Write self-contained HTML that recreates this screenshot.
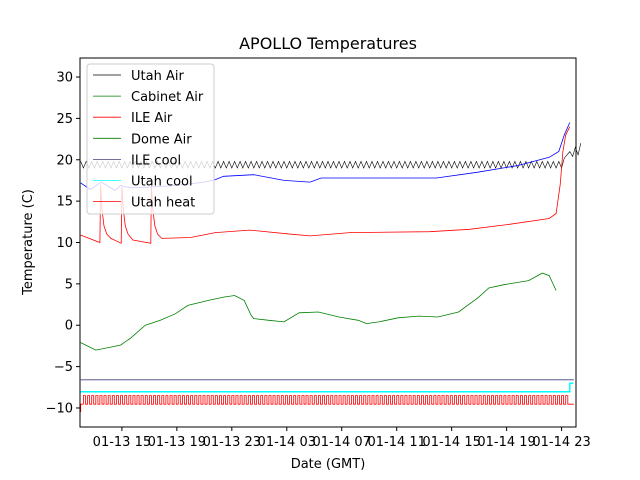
<!DOCTYPE html>
<html><head><meta charset="utf-8"><style>
body{margin:0;background:#fff}
svg{display:block;font-family:"DejaVu Sans","Liberation Sans",sans-serif}
</style></head><body>
<svg id="chart" width="640" height="480">
<rect width="640" height="480" fill="#fff"/>
<text x="328" y="49" font-size="16" text-anchor="middle">APOLLO Temperatures</text>
<g id="plot"></g>
<g id="axes"></g>
<text x="328" y="468" font-size="13" text-anchor="middle">Date (GMT)</text>
<text transform="translate(32,242) rotate(-90)" font-size="13" text-anchor="middle">Temperature (C)</text>
<g id="legend"></g>
</svg>
<script>
// hours since 01-13 00:00
const xTicks = [15,19,23,27,31,35,39,43,47];
const xTickLabels = ["01-13 15","01-13 19","01-13 23","01-14 03","01-14 07","01-14 11","01-14 15","01-14 19","01-14 23"];
const yTicks = [-10,-5,0,5,10,15,20,25,30];
const cabinetT = [12,13.1,14.9,15.6,16.7,17.8,18.9,19.8,21.3,22.4,23.2,23.9,24.4,24.6,25.7,26.8,27.9,29.3,30.8,32.2,32.8,33.7,35.1,36.6,38.0,39.5,40.9,41.7,42.8,44.6,45.6,46.1,46.6];
const cabinetV = [-2.1,-3.0,-2.4,-1.6,0.0,0.6,1.4,2.4,3.0,3.4,3.6,3.0,1.2,0.8,0.6,0.4,1.5,1.6,1.0,0.6,0.2,0.4,0.9,1.1,1.0,1.6,3.3,4.5,4.9,5.4,6.3,6.0,4.2];
const ileAirT = [12,13.4,13.45,13.55,13.7,13.9,14.2,14.95,15.0,15.1,15.25,15.45,15.8,17.1,17.15,17.25,17.4,17.6,17.9,20,21.8,24.3,27.3,28.7,31.6,37.4,40.3,43.2,46.1,46.6,46.9,47.1,47.3,47.6];
const ileAirV = [10.9,10.0,17.0,14.0,12.0,11.0,10.5,9.9,16.8,14.0,12.0,11.0,10.3,9.9,17.0,14.0,12.0,11.0,10.5,10.6,11.2,11.5,11.0,10.8,11.2,11.3,11.6,12.2,12.9,13.5,17,21,23,24];
const ileCoolT = [12,12.7,13.5,14.5,14.9,15.6,17,19,21,21.8,22.4,24.6,26.8,28.7,29.5,32.2,37.9,40.9,43.8,46.1,46.8,47.2,47.6];
const ileCoolV = [17.2,16.4,17.3,16.3,16.9,16.6,16.7,16.9,17.3,17.6,18.0,18.2,17.5,17.3,17.8,17.8,17.8,18.5,19.3,20.3,21,23,24.5];
const utahAir = [
19.8,19.0,19.8,19.0,19.8,19.0,19.8,19.0,19.8,19.0,19.8,19.0,19.8,19.0,19.8,19.0,19.8,19.0,19.8,19.0,
19.8,19.0,19.8,19.0,19.8,19.0,19.8,19.0,19.8,19.0,19.8,19.0,19.8,19.0,19.8,19.0,19.8,19.0,19.8,19.0,
19.8,19.0,19.8,19.0,19.8,19.0,19.8,19.0,19.8,19.0,19.8,19.0,19.8,19.0,19.8,19.0,19.8,19.0,19.8,19.0,
19.8,19.0,19.8,19.0,19.8,19.0,19.8,19.0,19.8,19.0,19.8,19.0,19.8,19.0,19.8,19.0,19.8,19.0,19.8,19.0,
19.8,19.0,19.8,19.0,19.8,19.0,19.8,19.0,19.8,19.0,19.8,19.0,19.8,19.0,19.8,19.0,19.8,19.0,19.8,19.0,
19.8,19.0,19.8,19.0,19.8,19.0,19.8,19.0,19.8,19.0,19.8,19.0,19.8,19.0,19.8,19.0,19.8,19.0,19.8,19.0,
19.8,19.0,19.8,19.0,19.8,19.0,19.8,19.0,19.8,19.0,19.8,19.0,19.8,19.0,19.8,19.0,19.8,19.0,19.8,19.0,
19.8,19.0,19.8,19.0,19.8,19.0,19.8,19.0,19.8,19.0,19.8,19.0,19.8,19.0,19.8,19.0,19.8,19.0,19.8,19.0,
19.8,19.0,19.8,19.0,19.8,19.0,19.8,19.0,19.8,19.0,19.8,19.0,19.8,19.0,19.8,19.0,20.2,20.6,21.0,20.4,
21.5,20.6,22.0];
const utahAirStart = 12, utahAirStep = 0.2;
const heatPulses = [12.2,12.5,12.8,13.1,13.4,13.7,14.0,14.3,14.6,14.9,15.2,15.5,15.8,16.1,16.4,16.7,17.0,17.3,17.6,17.9,
18.2,18.5,18.8,19.1,19.4,19.7,20.0,20.3,20.6,20.9,21.2,21.5,21.8,22.1,22.4,22.7,23.0,23.3,23.6,23.9,
24.2,24.5,24.8,25.1,25.4,25.7,26.0,26.3,26.6,26.9,27.2,27.5,27.8,28.1,28.4,28.7,29.0,29.3,29.6,29.9,
30.2,30.5,30.8,31.1,31.4,31.7,32.0,32.3,32.6,32.9,33.2,33.5,33.8,34.1,34.4,34.7,35.0,35.3,35.6,35.9,
36.2,36.5,36.8,37.1,37.4,37.7,38.0,38.3,38.6,38.9,39.2,39.5,39.8,40.1,40.4,40.7,41.0,41.3,41.6,41.9,
42.2,42.5,42.8,43.1,43.4,43.7,44.0,44.3,44.6,44.9,45.2,45.5,45.8,46.1,46.4,46.7,47.0,47.3];
const heatLow = -9.55, heatHigh = -8.5, heatEnd = 47.9;
const utahCoolT = [12,47.6,47.6,47.85];
const utahCoolV = [-8.05,-8.05,-7.0,-7.0];
const domeT = [12,47.9];
const domeV = [-6.6,-6.6];

const L=80,R=576,T=58,B=427;
const xMin=11.95,xMax=48.05,yMin=-12.3,yMax=32.3;
const X=h=>L+(h-xMin)/(xMax-xMin)*(R-L);
const Y=v=>B-(v-yMin)/(yMax-yMin)*(B-T);
const NS="http://www.w3.org/2000/svg";
function mk(tag,attrs,parent){const e=document.createElementNS(NS,tag);for(const k in attrs)e.setAttribute(k,attrs[k]);parent.appendChild(e);return e;}
const plot=document.getElementById('plot'), axes=document.getElementById('axes');
function line(ts,vs,color,name,w){
  const d=ts.map((t,i)=>(i?'L':'M')+X(t).toFixed(1)+','+Y(vs[i]).toFixed(1)).join('');
  const p=mk('path',{d:d,fill:'none',stroke:color,'stroke-width':w||0.8},plot);
  
  
}
line(domeT,domeV,'#40407a','ile-cool-baseline-line');
line(utahCoolT,utahCoolV,'cyan','utah-cool-line',1.5);
let hd='M'+X(12).toFixed(1)+','+Y(-10.5).toFixed(1)+'L'+X(12).toFixed(1)+','+Y(heatLow).toFixed(1);
heatPulses.forEach(t=>{hd+='L'+X(t).toFixed(1)+','+Y(heatLow).toFixed(1)+'L'+X(t).toFixed(1)+','+Y(heatHigh).toFixed(1)+'L'+X(t+0.15).toFixed(1)+','+Y(heatHigh).toFixed(1)+'L'+X(t+0.15).toFixed(1)+','+Y(heatLow).toFixed(1);});
hd+='L'+X(heatEnd).toFixed(1)+','+Y(heatLow).toFixed(1);
const hp=mk('path',{d:hd,fill:'none',stroke:'red','stroke-width':0.8},plot);


line(utahAir.map((v,i)=>utahAirStart+i*utahAirStep),utahAir,'black','utah-air-line',0.6);
line(cabinetT,cabinetV,'green','cabinet-air-line');
line(ileAirT,ileAirV,'red','ile-air-line');
line(ileCoolT,ileCoolV,'blue','ile-cool-line');
const fr=mk('rect',{x:L,y:T,width:R-L,height:B-T,fill:'none',stroke:'#000','stroke-width':1},axes);


yTicks.forEach(v=>{
  mk('line',{x1:L-4,x2:L,y1:Y(v),y2:Y(v),stroke:'#000'},axes);
  const t=mk('text',{x:L-7,y:Y(v)+4.5,'font-size':13,'text-anchor':'end'},axes);
  t.textContent=String(v).replace('-','\u2212');
  
  
});
xTicks.forEach((h,i)=>{
  mk('line',{x1:X(h),x2:X(h),y1:B,y2:B+4,stroke:'#000'},axes);
  const t=mk('text',{x:X(h),y:B+19,'font-size':13,'text-anchor':'middle'},axes);
  t.textContent=xTickLabels[i];
  
  
});
const lg=document.getElementById('legend');
mk('rect',{x:87,y:64,width:127,height:150,rx:3,fill:'rgba(255,255,255,0.8)',stroke:'#ccc','stroke-width':1},lg);
const names=["Utah Air","Cabinet Air","ILE Air","Dome Air","ILE cool","Utah cool","Utah heat"];
const cols=["black","green","red","green","#40407a","cyan","red"];
names.forEach((n,i)=>{
  const y=75+i*21.1;
  const g=mk('g',{},lg);
  
  
  mk('line',{x1:93,x2:121,y1:y,y2:y,stroke:cols[i],'stroke-width':0.8},g);
  const t=mk('text',{x:131,y:y+5,'font-size':13},g);
  t.textContent=n;
});
</script>
</body></html>
